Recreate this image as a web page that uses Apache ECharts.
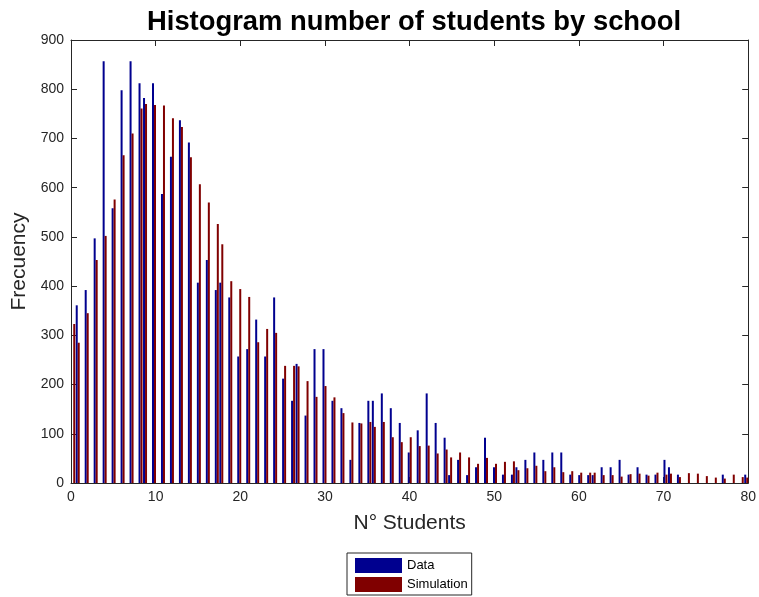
<!DOCTYPE html>
<html>
<head>
<meta charset="utf-8">
<script src="https://cdn.jsdelivr.net/npm/echarts@6/dist/echarts.min.js"></script>
<style>
  html, body { margin: 0; padding: 0; background: #ffffff; }
  #chart { width: 759px; height: 597px; }
</style>
</head>
<body>
<div id="chart"></div>
<script>
// Number of students per school (integer values)
const students = [
  0, 1, 2, 3, 4, 5, 6, 7, 8, 9,
  10, 11, 12, 13, 14, 15, 16, 17, 18, 19,
  20, 21, 22, 23, 24, 25, 26, 27, 28, 29,
  30, 31, 32, 33, 34, 35, 36, 37, 38, 39,
  40, 41, 42, 43, 44, 45, 46, 47, 48, 49,
  50, 51, 52, 53, 54, 55, 56, 57, 58, 59,
  60, 61, 62, 63, 64, 65, 66, 67, 68, 69,
  70, 71, 72, 73, 74, 75, 76, 77, 78, 79,
  80
];

// Observed frequencies (scaled)
const dataCounts = [
  0, 361, 392, 497, 857, 558, 798, 857, 812, 782,
  812, 587, 663, 737, 692, 407, 453, 392, 407, 377,
  257, 272, 332, 257, 377, 212, 167, 242, 137, 272,
  272, 167, 152, 47, 122, 167, 167, 182, 152, 122,
  62, 107, 182, 122, 92, 16, 47, 16, 32, 92,
  32, 17, 17, 32, 47, 62, 47, 62, 62, 17,
  16, 16, 16, 32, 32, 47, 17, 32, 17, 17,
  47, 32, 17, 0, 0, 0, 0, 17, 0, 0,
  17
];

// Simulated frequencies
const simulationCounts = [
  323, 285, 345, 453, 502, 576, 666, 710, 761, 770,
  768, 767, 741, 723, 662, 607, 570, 526, 485, 410,
  394, 378, 286, 313, 305, 238, 238, 237, 207, 175,
  197, 174, 142, 123, 121, 124, 114, 124, 93, 83,
  93, 75, 76, 60, 68, 52, 62, 52, 39, 51,
  39, 43, 44, 26, 30, 35, 24, 32, 22, 24,
  21, 21, 21, 16, 16, 13, 18, 19, 15, 21,
  17, 19, 12, 20, 19, 14, 11, 9, 17, 12,
  11
];

const seriesNames = ['Data', 'Simulation'];
const seriesColors = ['#00008F', '#800000'];

// Histogram bins: width binWidth starting at 0, each bin (e_i, e_i+1] with the first one closed
const binWidth = 0.53;
function binCenter(k) {
  const bin = k === 0 ? 0 : Math.ceil(k / binWidth) - 1;
  return (bin + 0.5) * binWidth;
}

const xMin = 0, xMax = 80, xStep = 10;
const yMin = 0, yMax = 900, yStep = 100;

const axisColor = '#262626';
const font = '"Liberation Sans", Arial, Helvetica, sans-serif';

const chart = echarts.init(document.getElementById('chart'), null, { renderer: 'canvas' });

const boxAxis = (extra) => Object.assign({
  type: 'value',
  axisLine: { show: true, onZero: false, lineStyle: { color: axisColor, width: 1 } },
  axisTick: { show: true, inside: true, length: 6, lineStyle: { color: axisColor } },
  splitLine: { show: false },
}, extra);

chart.setOption({
  animation: false,
  backgroundColor: '#ffffff',
  title: {
    text: 'Histogram number of students by school',
    left: 142,
    top: 4,
    textStyle: { fontFamily: font, fontSize: 27.4, fontWeight: 'bold', color: '#000000' }
  },
  grid: { left: 71, right: 9, top: 40, bottom: 114, containLabel: false },
  legend: {
    data: seriesNames,
    orient: 'vertical',
    left: 347,
    top: 553,
    icon: 'rect',
    itemWidth: 47,
    itemHeight: 15,
    itemGap: 4,
    padding: [5, 4, 3, 8],
    borderColor: axisColor,
    borderWidth: 1,
    backgroundColor: '#ffffff',
    textStyle: { fontFamily: font, fontSize: 13, color: '#000000' }
  },
  xAxis: [
    boxAxis({
      position: 'bottom',
      min: xMin, max: xMax, interval: xStep,
      name: 'N° Students',
      nameLocation: 'middle',
      nameGap: 30,
      nameTextStyle: { fontFamily: font, fontSize: 21, color: axisColor },
      axisLabel: { fontFamily: font, fontSize: 14, color: axisColor, margin: 7 }
    }),
    boxAxis({
      position: 'top',
      min: xMin, max: xMax, interval: xStep,
      axisLabel: { show: false }
    })
  ],
  yAxis: [
    boxAxis({
      position: 'left',
      min: yMin, max: yMax, interval: yStep,
      name: 'Frecuency',
      nameLocation: 'middle',
      nameGap: 33,
      nameTextStyle: { fontFamily: font, fontSize: 21, color: axisColor },
      axisLabel: { fontFamily: font, fontSize: 14, color: axisColor, margin: 7 }
    }),
    boxAxis({
      position: 'right',
      min: yMin, max: yMax, interval: yStep,
      axisLabel: { show: false }
    })
  ],
  series: [
    {
      name: seriesNames[0],
      type: 'bar',
      xAxisIndex: 0,
      yAxisIndex: 0,
      barWidth: 2,
      barGap: '0%',
      clip: true,
      itemStyle: { color: seriesColors[0] },
      data: students.map((k, i) => [binCenter(k), dataCounts[i]])
    },
    {
      name: seriesNames[1],
      type: 'bar',
      xAxisIndex: 0,
      yAxisIndex: 0,
      barWidth: 2,
      barGap: '0%',
      clip: true,
      itemStyle: { color: seriesColors[1] },
      data: students.map((k, i) => [binCenter(k), simulationCounts[i]])
    }
  ]
});
</script>
</body>
</html>
